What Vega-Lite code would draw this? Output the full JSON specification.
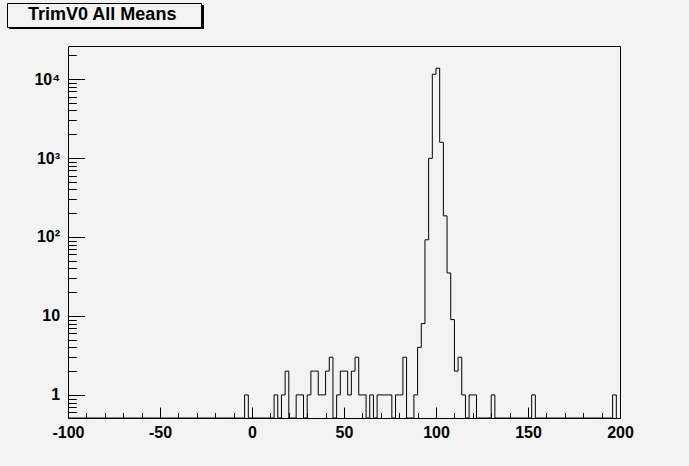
{
  "$schema": "https://vega.github.io/schema/vega-lite/v6.json",
  "width": 552,
  "height": 372,
  "autosize": {"type": "none"},
  "padding": {"left": 68, "top": 46, "right": 69, "bottom": 48},
  "background": "#f3f3f3",
  "config": {
    "view": {"stroke": "black", "strokeWidth": 1},
    "axis": {
      "domain": false,
      "grid": false,
      "title": null,
      "tickColor": "black",
      "tickWidth": 1,
      "labelFont": "Liberation Sans",
      "labelFontWeight": "bold",
      "labelFontSize": 16,
      "labelColor": "black",
      "labelOverlap": false,
      "labelFlush": false,
      "labelBound": false
    }
  },
  "data": {
    "values": [
      {"x": -100, "count": 0}, {"x": -98, "count": 0}, {"x": -96, "count": 0}, {"x": -94, "count": 0}, {"x": -92, "count": 0},
      {"x": -90, "count": 0}, {"x": -88, "count": 0}, {"x": -86, "count": 0}, {"x": -84, "count": 0}, {"x": -82, "count": 0},
      {"x": -80, "count": 0}, {"x": -78, "count": 0}, {"x": -76, "count": 0}, {"x": -74, "count": 0}, {"x": -72, "count": 0},
      {"x": -70, "count": 0}, {"x": -68, "count": 0}, {"x": -66, "count": 0}, {"x": -64, "count": 0}, {"x": -62, "count": 0},
      {"x": -60, "count": 0}, {"x": -58, "count": 0}, {"x": -56, "count": 0}, {"x": -54, "count": 0}, {"x": -52, "count": 0},
      {"x": -50, "count": 0}, {"x": -48, "count": 0}, {"x": -46, "count": 0}, {"x": -44, "count": 0}, {"x": -42, "count": 0},
      {"x": -40, "count": 0}, {"x": -38, "count": 0}, {"x": -36, "count": 0}, {"x": -34, "count": 0}, {"x": -32, "count": 0},
      {"x": -30, "count": 0}, {"x": -28, "count": 0}, {"x": -26, "count": 0}, {"x": -24, "count": 0}, {"x": -22, "count": 0},
      {"x": -20, "count": 0}, {"x": -18, "count": 0}, {"x": -16, "count": 0}, {"x": -14, "count": 0}, {"x": -12, "count": 0},
      {"x": -10, "count": 0}, {"x": -8, "count": 0}, {"x": -6, "count": 0}, {"x": -4, "count": 1}, {"x": -2, "count": 0},
      {"x": 0, "count": 0}, {"x": 2, "count": 0}, {"x": 4, "count": 0}, {"x": 6, "count": 0}, {"x": 8, "count": 0},
      {"x": 10, "count": 0}, {"x": 12, "count": 1}, {"x": 14, "count": 0}, {"x": 16, "count": 1}, {"x": 18, "count": 2},
      {"x": 20, "count": 0}, {"x": 22, "count": 0}, {"x": 24, "count": 1}, {"x": 26, "count": 1}, {"x": 28, "count": 0},
      {"x": 30, "count": 1}, {"x": 32, "count": 2}, {"x": 34, "count": 2}, {"x": 36, "count": 1}, {"x": 38, "count": 1},
      {"x": 40, "count": 2}, {"x": 42, "count": 3}, {"x": 44, "count": 0}, {"x": 46, "count": 1}, {"x": 48, "count": 2},
      {"x": 50, "count": 2}, {"x": 52, "count": 1}, {"x": 54, "count": 2}, {"x": 56, "count": 3}, {"x": 58, "count": 1},
      {"x": 60, "count": 1}, {"x": 62, "count": 0}, {"x": 64, "count": 1}, {"x": 66, "count": 0}, {"x": 68, "count": 1},
      {"x": 70, "count": 1}, {"x": 72, "count": 1}, {"x": 74, "count": 1}, {"x": 76, "count": 0}, {"x": 78, "count": 1},
      {"x": 80, "count": 1}, {"x": 82, "count": 3}, {"x": 84, "count": 0}, {"x": 86, "count": 0}, {"x": 88, "count": 1},
      {"x": 90, "count": 4}, {"x": 92, "count": 8}, {"x": 94, "count": 92}, {"x": 96, "count": 990}, {"x": 98, "count": 11500},
      {"x": 100, "count": 13700}, {"x": 102, "count": 1580}, {"x": 104, "count": 185}, {"x": 106, "count": 35}, {"x": 108, "count": 9},
      {"x": 110, "count": 2}, {"x": 112, "count": 3}, {"x": 114, "count": 1}, {"x": 116, "count": 0}, {"x": 118, "count": 1},
      {"x": 120, "count": 1}, {"x": 122, "count": 0}, {"x": 124, "count": 0}, {"x": 126, "count": 0}, {"x": 128, "count": 0},
      {"x": 130, "count": 1}, {"x": 132, "count": 0}, {"x": 134, "count": 0}, {"x": 136, "count": 0}, {"x": 138, "count": 0},
      {"x": 140, "count": 0}, {"x": 142, "count": 0}, {"x": 144, "count": 0}, {"x": 146, "count": 0}, {"x": 148, "count": 0},
      {"x": 150, "count": 0}, {"x": 152, "count": 1}, {"x": 154, "count": 0}, {"x": 156, "count": 0}, {"x": 158, "count": 0},
      {"x": 160, "count": 0}, {"x": 162, "count": 0}, {"x": 164, "count": 0}, {"x": 166, "count": 0}, {"x": 168, "count": 0},
      {"x": 170, "count": 0}, {"x": 172, "count": 0}, {"x": 174, "count": 0}, {"x": 176, "count": 0}, {"x": 178, "count": 0},
      {"x": 180, "count": 0}, {"x": 182, "count": 0}, {"x": 184, "count": 0}, {"x": 186, "count": 0}, {"x": 188, "count": 0},
      {"x": 190, "count": 0}, {"x": 192, "count": 0}, {"x": 194, "count": 0}, {"x": 196, "count": 1}, {"x": 198, "count": 0}
    ]
  },
  "mark": {"type": "line", "interpolate": "step-after", "strokeWidth": 1},
  "encoding": {
    "x": {
      "field": "x",
      "type": "quantitative",
      "scale": {"domain": [-100, 200], "nice": false, "zero": false},
      "axis": {
        "values": [-100, -90, -80, -70, -60, -50, -40, -30, -20, -10, 0, 10, 20, 30, 40, 50, 60, 70, 80, 90, 100, 110, 120, 130, 140, 150, 160, 170, 180, 190, 200],
        "labelExpr": "datum.value % 50 === 0 ? toString(datum.value) : ''",
        "tickSize": {"condition": {"test": "datum.value % 50 === 0", "value": -11}, "value": -5.5},
        "labelPadding": 17
      }
    },
    "y": {
      "field": "count",
      "type": "quantitative",
      "scale": {"type": "log", "domain": [0.51, 26200], "nice": false, "clamp": true},
      "axis": {
        "values": [0.6, 0.7, 0.8, 0.9, 1, 2, 3, 4, 5, 6, 7, 8, 9, 10, 20, 30, 40, 50, 60, 70, 80, 90, 100, 200, 300, 400, 500, 600, 700, 800, 900, 1000, 2000, 3000, 4000, 5000, 6000, 7000, 8000, 9000, 10000, 20000],
        "labelExpr": "datum.value === 1 ? '1' : datum.value === 10 ? '10' : datum.value === 100 ? '10²' : datum.value === 1000 ? '10³' : datum.value === 10000 ? '10⁴' : ''",
        "tickSize": {"condition": {"test": "indexof([1, 10, 100, 1000, 10000], datum.value) >= 0", "value": -16.6}, "value": -8.3},
        "labelPadding": 25
      }
    },
    "fill": {
      "datum": "shadow",
      "scale": {"range": ["transparent"]},
      "legend": {
        "orient": "none",
        "legendX": -59,
        "legendY": -41,
        "title": null,
        "strokeColor": "black",
        "fillColor": "black",
        "padding": 0,
        "symbolType": "square",
        "symbolSize": 37636,
        "symbolOpacity": 0,
        "symbolStrokeWidth": 0,
        "clipHeight": 23,
        "labelOffset": 0,
        "labelLimit": 0,
        "labelExpr": "''"
      }
    },
    "stroke": {
      "datum": "TrimV0 All Means",
      "scale": {"range": ["black"]},
      "legend": {
        "orient": "none",
        "legendX": -61,
        "legendY": -43,
        "title": null,
        "strokeColor": "black",
        "fillColor": "#f3f3f3",
        "padding": 3,
        "symbolSize": 0,
        "symbolOpacity": 0,
        "symbolStrokeWidth": 0,
        "labelOffset": 0,
        "labelLimit": 0,
        "labelFont": "Liberation Sans",
        "labelFontWeight": "bold",
        "labelFontSize": 18,
        "labelColor": "black",
        "labelExpr": "'\u00a0\u00a0\u00a0\u00a0\u200b' + datum.label + '\u00a0\u00a0\u00a0\u00a0\u200b'"
      }
    }
  }
}
